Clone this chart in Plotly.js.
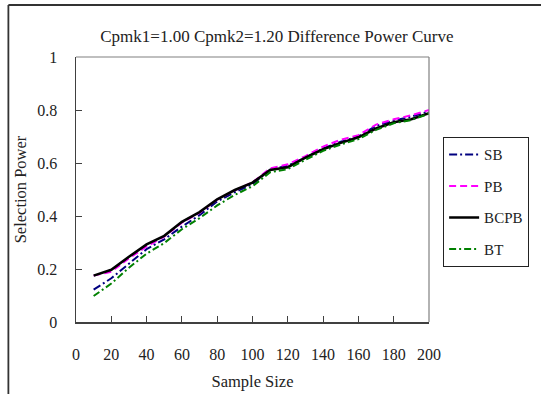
<!DOCTYPE html>
<html>
<head>
<meta charset="utf-8">
<script src="https://cdn.plot.ly/plotly-3.0.1.min.js"></script>
<style>html,body{margin:0;padding:0;background:#fff;}#chart{width:541px;height:394px;}</style>
</head>
<body>
<div id="chart"></div>
<script>
const sampleSize = [10,20,30,40,50,60,70,80,90,100,110,120,130,140,150,160,170,180,190,200];
const sb   = [0.122,0.165,0.220,0.275,0.312,0.360,0.403,0.455,0.490,0.520,0.575,0.590,0.620,0.655,0.680,0.700,0.740,0.760,0.775,0.795];
const pb   = [0.175,0.190,0.240,0.285,0.322,0.375,0.412,0.462,0.497,0.527,0.580,0.595,0.626,0.662,0.688,0.705,0.745,0.765,0.780,0.800];
const bcpb = [0.175,0.197,0.246,0.293,0.325,0.378,0.415,0.463,0.498,0.526,0.574,0.584,0.620,0.652,0.676,0.697,0.730,0.754,0.765,0.788];
const bt   = [0.098,0.145,0.205,0.258,0.298,0.350,0.392,0.440,0.480,0.512,0.565,0.577,0.612,0.646,0.670,0.690,0.725,0.750,0.762,0.786];
const seriesNames = ['SB','PB','BCPB','BT'];
const titleText = 'Cpmk1=1.00 Cpmk2=1.20 Difference Power Curve';
const xTitle = 'Sample Size';
const yTitle = 'Selection Power';

const font = 'Liberation Serif';
const styles = [
  {color:'#000080', dash:'8px,3px,2px,3px', width:2},
  {color:'#FF00FF', dash:'7px,4px', width:2},
  {color:'#000000', dash:'solid', width:2.6},
  {color:'#008000', dash:'7px,3px,2px,3px', width:2}
];
const ys = [sb, pb, bcpb, bt];
const traces = ys.map((v,i)=>({
  x: sampleSize, y: v, type:'scatter', mode:'lines', name: seriesNames[i],
  legendgroup: 'g'+i,
  line: {color: styles[i].color, dash: styles[i].dash, width: styles[i].width}
}));

const L=76, R=431, T=57, B=322;
const W=541, H=394;
const px = v => (v - L)/(R-L);
const py = v => (B - v)/(B-T);

const layout = {
  width: W, height: H,
  margin: {l:L, r:W-R, t:T, b:H-B, pad:0},
  paper_bgcolor:'#fff', plot_bgcolor:'#fff',
  font: {family: font, size: 15, color:'#222'},
  showlegend: true,
  title: {text: titleText, font:{family:font, size:17, color:'#222'}, xref:'paper', x: px(278), xanchor:'center', yref:'container', y: 1-36/H, yanchor:'middle'},
  xaxis: {
    range:[0,200], tick0:0, dtick:20, ticks:'inside', ticklen:6, tickcolor:'#404040',
    showline:true, linecolor:'#404040', linewidth:1.5, showgrid:false, zeroline:false,
    ticklabelstandoff: 17, tickfont:{family:font,size:16,color:'#222'},
    title:{text:xTitle, font:{family:font,size:16.5,color:'#222'}, standoff:13},
    fixedrange:true
  },
  yaxis: {
    range:[0,1], tick0:0, dtick:0.2, ticks:'inside', ticklen:6, tickcolor:'#404040',
    showline:true, linecolor:'#404040', linewidth:1.5, showgrid:false, zeroline:false,
    ticklabelstandoff: 14, tickfont:{family:font,size:16,color:'#222'},
    title:{text:yTitle, font:{family:font,size:16.5,color:'#222'}, standoff:6},
    fixedrange:true
  },
  legend: {
    x: px(445), y: py(137), xanchor:'left', yanchor:'top',
    bordercolor:'#222', borderwidth:1.2, bgcolor:'#fff',
    font:{family:font,size:15,color:'#222'},
    traceorder:'grouped', tracegroupgap: 9
  },
  shapes: [
    {type:'line', xref:'paper', yref:'paper', x0:0, x1:1, y0:1, y1:1, line:{color:'#808080', width:1.2}},
    {type:'line', xref:'paper', yref:'paper', x0:1, x1:1, y0:0, y1:1, line:{color:'#808080', width:1.2}},
    {type:'line', xref:'paper', yref:'paper', x0:px(8), x1:px(W+5), y0:py(5), y1:py(5), line:{color:'#333', width:1.8}},
    {type:'line', xref:'paper', yref:'paper', x0:px(8), x1:px(8), y0:py(5), y1:py(H+5), line:{color:'#333', width:1.8}}
  ]
};
Plotly.newPlot('chart', traces, layout, {displayModeBar:false, staticPlot:true});
</script>
</body>
</html>
